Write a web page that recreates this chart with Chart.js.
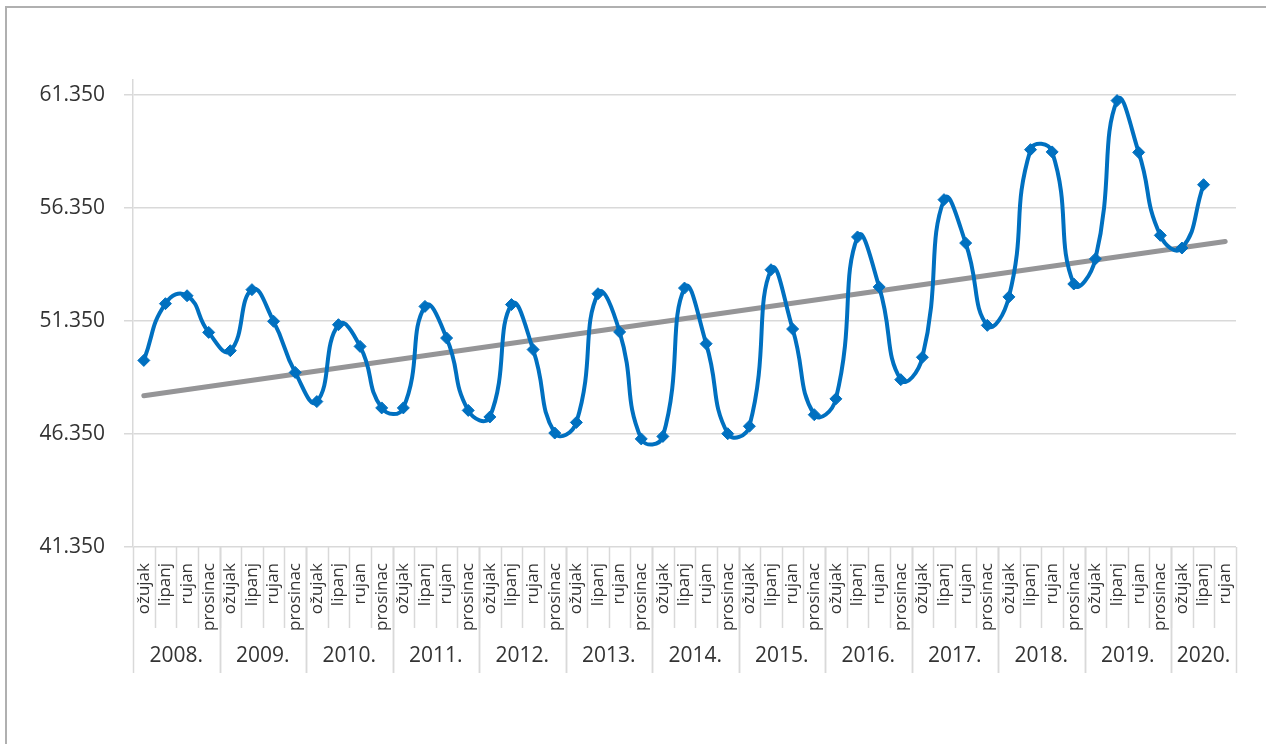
<!DOCTYPE html>
<html>
<head>
<meta charset="utf-8">
<script src="https://cdn.jsdelivr.net/npm/chart.js@4/dist/chart.umd.min.js"></script>
<style>
  html, body { margin: 0; padding: 0; background: #fff; }
  #wrap { position: relative; width: 1266px; height: 744px; overflow: hidden; }
  #frame { position: absolute; left: 5px; top: 6px; width: 1300px; height: 800px;
           border-left: 2px solid #b0b0b0; border-top: 2px solid #b0b0b0; }
  canvas { position: absolute; left: 0; top: 0; }
</style>
</head>
<body>
<div id="wrap">
  <div id="frame"></div>
  <canvas id="chart" width="1266" height="744"></canvas>
</div>
<script>
// quarters per year (2020 only up to rujan)
const months = ['ožujak', 'lipanj', 'rujan', 'prosinac']
const years = ['2008.', '2009.', '2010.', '2011.', '2012.', '2013.', '2014.',
               '2015.', '2016.', '2017.', '2018.', '2019.', '2020.']
const quartersPerYear = [4, 4, 4, 4, 4, 4, 4, 4, 4, 4, 4, 4, 3]

// values, one per quarter
const values = [
  49600, 52110, 52460, 50840,   // 2008
  50030, 52730, 51330, 49070,   // 2009
  47780, 51180, 50220, 47500,   // 2010
  47500, 51990, 50590, 47390,   // 2011
  47100, 52070, 50080, 46390,   // 2012
  46860, 52550, 50860, 46130,   // 2013
  46240, 52800, 50340, 46360,   // 2014
  46690, 53610, 50990, 47200,   // 2015
  47900, 55060, 52850, 48750,   // 2016
  49740, 56710, 54790, 51150,   // 2017
  52410, 58920, 58820, 52980,   // 2018
  54090, 61090, 58800, 55130,   // 2019
  54570, 57370, null            // 2020
]

// linear trend, start and end as read
const trendStart = 48040
const trendEnd = 54860

const yTicks = [41350, 46350, 51350, 56350, 61350]
const yMin = 41350
const yMax = 62000

const labels = []
quartersPerYear.forEach(n => {
  for (let i = 0; i < n; i++) labels.push(months[i])
})

// trend only has its two end points, the gap is spanned
const trendData = labels.map((_, i) => {
  if (i === 0) return trendStart
  if (i === labels.length - 1) return trendEnd
  return null
})

const FONT = '"Open Sans", Lato, sans-serif'
const SEP = '#d9d9d9'

function fmt(v) {
  return Math.floor(v / 1000) + '.' + String(v % 1000).padStart(3, '0')
}

// draws the category separators and the year row under the month labels
const yearAxis = {
  id: 'yearAxis',
  afterDraw(chart) {
    const { ctx, chartArea } = chart
    const x = chart.scales.x
    const half = (x.getPixelForValue(1) - x.getPixelForValue(0)) / 2
    const top = chartArea.bottom
    const monthBottom = top + 81
    const yearBottom = top + 126

    ctx.save()
    ctx.strokeStyle = SEP
    ctx.lineWidth = 1.5
    // month separators
    for (let i = 1; i < labels.length; i++) {
      const px = Math.round(x.getPixelForValue(i) - half) + 0.5
      ctx.beginPath()
      ctx.moveTo(px, top)
      ctx.lineTo(px, monthBottom)
      ctx.stroke()
    }
    // year separators + year labels
    ctx.fillStyle = '#333'
    ctx.font = '21px ' + FONT
    ctx.textAlign = 'center'
    ctx.textBaseline = 'middle'
    let idx = 0
    years.forEach((yr, k) => {
      const startPx = x.getPixelForValue(idx) - half
      const endPx = x.getPixelForValue(idx + quartersPerYear[k] - 1) + half
      ;[startPx, endPx].forEach(p => {
        const px = Math.round(p) + 0.5
        ctx.beginPath()
        ctx.moveTo(px, top)
        ctx.lineTo(px, yearBottom)
        ctx.stroke()
      })
      ctx.fillText(yr, (startPx + endPx) / 2, top + 109)
      idx += quartersPerYear[k]
    })
    ctx.restore()
  }
}

new Chart(document.getElementById('chart'), {
  type: 'line',
  data: {
    labels: labels,
    datasets: [{
      label: 'vrijednost',
      data: values,
      borderColor: '#0070c0',
      backgroundColor: '#0070c0',
      borderWidth: 4,
      tension: 0.5,
      pointStyle: 'rectRot',
      pointRadius: 6,
      pointBorderWidth: 1,
      pointBackgroundColor: '#0070c0',
      pointBorderColor: '#0070c0',
      order: 1
    }, {
      label: 'trend',
      data: trendData,
      spanGaps: true,
      borderColor: '#959597',
      borderWidth: 5,
      borderCapStyle: 'round',
      pointRadius: 0,
      tension: 0,
      order: 2
    }]
  },
  options: {
    responsive: false,
    animation: false,
    layout: { padding: { top: 80, right: 30, left: 0, bottom: 0 } },
    plugins: {
      legend: { display: false },
      tooltip: { enabled: false }
    },
    scales: {
      x: {
        type: 'category',
        offset: true,
        grid: { display: false },
        border: { display: false },
        ticks: {
          autoSkip: false,
          minRotation: 90,
          maxRotation: 90,
          padding: 8,
          color: '#333',
          font: { family: FONT, size: 17 }
        },
        afterFit(scale) { scale.height = 197 }
      },
      y: {
        min: yMin,
        max: yMax,
        grid: { color: SEP, lineWidth: 1.5, tickLength: 9 },
        border: { display: true, color: SEP, width: 1.5 },
        afterBuildTicks(scale) { scale.ticks = yTicks.map(v => ({ value: v })) },
        afterFit(scale) { scale.width = 133 },
        ticks: {
          padding: 19,
          color: '#333',
          font: { family: FONT, size: 21 },
          callback: v => fmt(v)
        }
      }
    }
  },
  plugins: [yearAxis]
})
</script>
</body>
</html>
